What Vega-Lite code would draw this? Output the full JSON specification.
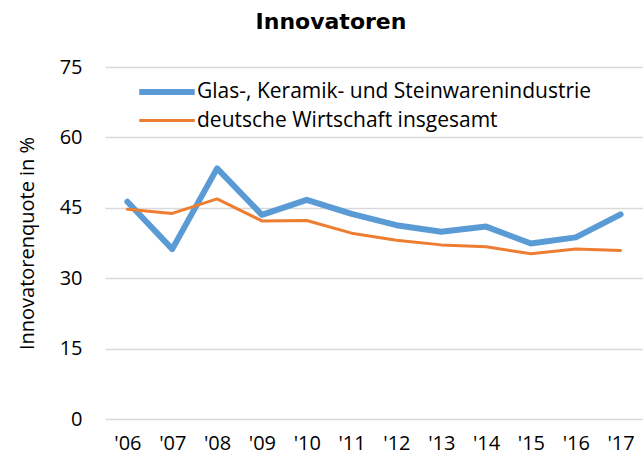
{
  "$schema": "https://vega.github.io/schema/vega-lite/v6.json",
  "width": 538,
  "height": 352,
  "autosize": {"type": "none"},
  "padding": {"left": 105, "top": 67, "right": 0, "bottom": 40},
  "background": "white",
  "title": {"text": "Innovatoren", "font": "DejaVu Sans", "fontSize": 22, "fontWeight": "bold", "color": "#000000", "anchor": "middle", "dx": -43, "offset": 23},
  "config": {"view": {"stroke": null}, "font": "Open Sans"},
  "data": {"values": [
    {"jahr": "'06", "reihe": "Glas-, Keramik- und Steinwarenindustrie", "wert": 46.3},
    {"jahr": "'07", "reihe": "Glas-, Keramik- und Steinwarenindustrie", "wert": 36.2},
    {"jahr": "'08", "reihe": "Glas-, Keramik- und Steinwarenindustrie", "wert": 53.4},
    {"jahr": "'09", "reihe": "Glas-, Keramik- und Steinwarenindustrie", "wert": 43.5},
    {"jahr": "'10", "reihe": "Glas-, Keramik- und Steinwarenindustrie", "wert": 46.7},
    {"jahr": "'11", "reihe": "Glas-, Keramik- und Steinwarenindustrie", "wert": 43.7},
    {"jahr": "'12", "reihe": "Glas-, Keramik- und Steinwarenindustrie", "wert": 41.3},
    {"jahr": "'13", "reihe": "Glas-, Keramik- und Steinwarenindustrie", "wert": 39.9},
    {"jahr": "'14", "reihe": "Glas-, Keramik- und Steinwarenindustrie", "wert": 41.0},
    {"jahr": "'15", "reihe": "Glas-, Keramik- und Steinwarenindustrie", "wert": 37.4},
    {"jahr": "'16", "reihe": "Glas-, Keramik- und Steinwarenindustrie", "wert": 38.7},
    {"jahr": "'17", "reihe": "Glas-, Keramik- und Steinwarenindustrie", "wert": 43.6},
    {"jahr": "'06", "reihe": "deutsche Wirtschaft insgesamt", "wert": 44.7},
    {"jahr": "'07", "reihe": "deutsche Wirtschaft insgesamt", "wert": 43.8},
    {"jahr": "'08", "reihe": "deutsche Wirtschaft insgesamt", "wert": 46.9},
    {"jahr": "'09", "reihe": "deutsche Wirtschaft insgesamt", "wert": 42.2},
    {"jahr": "'10", "reihe": "deutsche Wirtschaft insgesamt", "wert": 42.3},
    {"jahr": "'11", "reihe": "deutsche Wirtschaft insgesamt", "wert": 39.6},
    {"jahr": "'12", "reihe": "deutsche Wirtschaft insgesamt", "wert": 38.1},
    {"jahr": "'13", "reihe": "deutsche Wirtschaft insgesamt", "wert": 37.1},
    {"jahr": "'14", "reihe": "deutsche Wirtschaft insgesamt", "wert": 36.7},
    {"jahr": "'15", "reihe": "deutsche Wirtschaft insgesamt", "wert": 35.2},
    {"jahr": "'16", "reihe": "deutsche Wirtschaft insgesamt", "wert": 36.2},
    {"jahr": "'17", "reihe": "deutsche Wirtschaft insgesamt", "wert": 35.9}
  ]},
  "mark": {"type": "line", "strokeJoin": "round", "strokeCap": "round"},
  "encoding": {
    "x": {"field": "jahr", "type": "ordinal", "sort": null, "title": null,
      "scale": {"type": "point", "padding": 0.5},
      "axis": {"labelAngle": 0, "labelFont": "Open Sans", "labelFontSize": 20, "labelColor": "#000000", "labelPadding": 14, "ticks": false, "domain": false, "grid": false}},
    "y": {"field": "wert", "type": "quantitative", "title": "Innovatorenquote in %",
      "scale": {"domain": [0, 75], "nice": false, "zero": true},
      "axis": {"values": [0, 15, 30, 45, 60, 75], "labelFont": "Open Sans", "labelFontSize": 20, "labelColor": "#000000", "labelPadding": 23, "ticks": false, "domain": false, "grid": true, "gridColor": "#D9D9D9", "gridWidth": 1.5, "titleFont": "Open Sans", "titleFontSize": 20, "titleFontWeight": "normal", "titleColor": "#000000", "titlePadding": 22}},
    "color": {"field": "reihe", "type": "nominal", "sort": null, "title": null,
      "scale": {"domain": ["Glas-, Keramik- und Steinwarenindustrie", "deutsche Wirtschaft insgesamt"], "range": ["#5B9BD5", "#ED7D31"]},
      "legend": {"orient": "none", "legendX": 44, "legendY": 7, "symbolType": "M-1.85,0H1.85", "symbolSize": 900, "labelFont": "Open Sans", "labelFontSize": 21, "labelColor": "#000000", "labelOffset": 12, "rowPadding": 0, "labelLimit": 600}},
    "strokeWidth": {"field": "reihe", "type": "nominal", "sort": null, "title": null,
      "scale": {"domain": ["Glas-, Keramik- und Steinwarenindustrie", "deutsche Wirtschaft insgesamt"], "range": [6, 3]},
      "legend": {"orient": "none", "legendX": 44, "legendY": 7, "symbolType": "M-1.85,0H1.85", "symbolSize": 900, "labelFont": "Open Sans", "labelFontSize": 21, "labelColor": "#000000", "labelOffset": 12, "rowPadding": 0, "labelLimit": 600}}
  }
}
